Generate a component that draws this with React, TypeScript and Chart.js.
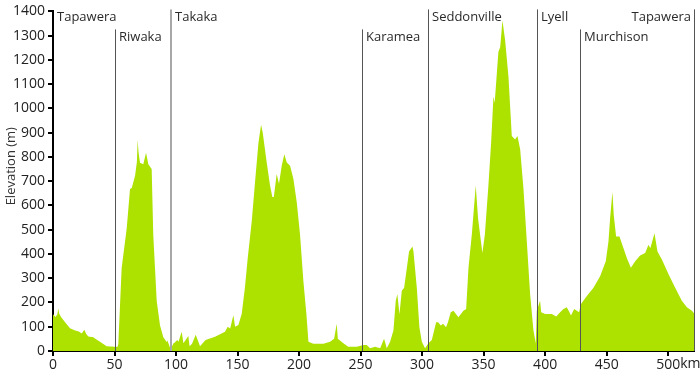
import React, { useEffect, useRef } from "react";
import { Chart, registerables } from "chart.js";

Chart.register(...registerables);

// Distance along route (km)
const distanceKm = [
  0, 2, 3.5, 4.3, 5, 6.5, 10, 13.8, 18, 21, 23.3, 25.5, 27, 28.7, 32.8, 35, 38.2, 43.6, 50, 52.5,
  53.1, 55.8, 59.9, 62.6, 64, 66.7, 68.2, 68.8, 69.5, 70.7, 73.4, 75.6, 77.5, 80.2, 81.5, 84.3, 87, 89.7, 92.4, 93,
  95.2, 96, 97.8, 99, 101, 102, 104.6, 106, 110, 111, 113, 116, 118, 119.5, 124, 131.7, 139.8, 142, 144, 146.6,
  148, 150.7, 153.4, 156, 158.3, 161.5, 164.2, 167, 169.1, 170.5, 173.7, 176.4, 178.3, 179.5, 181.8, 183.7, 185.9, 188, 190, 192.7,
  195.4, 198.1, 200.8, 203.5, 206, 207.6, 211.6, 219.8, 225.2, 228.5, 230.6, 231.5, 236, 240, 246.9, 252.3, 255, 257.7, 261.8, 265.9,
  269.1, 271.3, 274, 276.7, 278.6, 279.9, 281.6, 283.5, 285.4, 287.6, 289.4, 292.1, 293, 295.7, 297.8, 299.8, 302.4, 305.1, 307.9, 311.4,
  313, 315.2, 317, 319.5, 321, 323.3, 325.5, 329.5, 333.6, 335.8, 337.7, 340.4, 343.6, 345.5, 349, 351, 353.9, 356.1, 358, 359,
  362, 363.5, 365.3, 367.5, 370.2, 372.9, 375.6, 377.5, 379.7, 382.4, 385.1, 387.8, 390.5, 392.4, 393.2, 395.9, 396.8, 400, 405.4, 409,
  412.2, 414.9, 417.6, 419.8, 421, 423.6, 427.6, 429, 433.9, 439.3, 444.7, 449.3, 451.5, 452.8, 454.7, 455.8, 457.7, 460.4, 463.7, 466.4,
  469.7, 473.2, 477.2, 481.3, 484, 485.5, 488.9, 491.3, 494.9, 500.3, 505.7, 511.1, 515.2, 519.3, 521.4,
];

// Elevation (m)
const elevationM = [
  152, 140, 150, 175, 155, 140, 118, 94, 85, 80, 72, 88, 70, 60, 57, 48, 38, 20, 18, 18,
  30, 342, 505, 668, 672, 722, 780, 871, 820, 776, 770, 817, 770, 750, 478, 206, 105, 57, 37, 43,
  12, 10, 31, 35, 45, 38, 79, 32, 62, 20, 30, 67, 40, 20, 45, 59, 79, 100, 93, 147,
  100, 107, 154, 262, 384, 533, 696, 859, 933, 899, 777, 682, 635, 635, 730, 689, 764, 811, 777, 764,
  709, 614, 479, 289, 150, 38, 30, 30, 38, 51, 112, 51, 32, 18, 18, 25, 25, 11, 18, 11,
  51, 11, 38, 85, 207, 234, 152, 248, 261, 342, 410, 431, 410, 261, 98, 38, 11, 32, 45, 119,
  119, 105, 112, 98, 119, 160, 166, 139, 166, 173, 343, 479, 682, 546, 404, 479, 682, 859, 1049, 1022,
  1233, 1253, 1362, 1280, 1131, 886, 872, 886, 832, 669, 452, 234, 85, 31, 166, 207, 160, 153, 153, 142,
  160, 173, 180, 160, 146, 173, 160, 193, 227, 261, 308, 370, 452, 546, 655, 560, 472, 472, 424, 383,
  343, 370, 394, 404, 438, 424, 485, 410, 377, 316, 261, 207, 180, 166, 153,
];

// Towns along the route
const townNames = ["Tapawera", "Riwaka", "Takaka", "Karamea", "Seddonville", "Lyell", "Murchison", "Tapawera"];
const townKm = [0, 50.4, 96, 251, 305, 393, 428, 521];

const xTickStep = 50;
const yTickStep = 100;
const xMax = 521;
const yMax = 1400;
const yTitle = "Elevation (m)";

// Styling (not data)
const townLowRow = [false, true, false, true, false, false, true, false];
const FONT = "'Open Sans', 'Noto Sans', sans-serif";

const townPlugin = {
  id: "towns",
  afterDatasetsDraw(chart: any) {
    const { ctx, chartArea, scales } = chart;
    const xs = scales.x;
    ctx.save();
    ctx.font = `13px ${FONT}`;
    ctx.textBaseline = "middle";
    ctx.fillStyle = "#2a2a2a";
    townNames.forEach((name: string, i: number) => {
      const x = Math.round(xs.getPixelForValue(townKm[i]));
      const low = townLowRow[i];
      const labelY = chartArea.top + (low ? 26 : 6);
      if (i > 0) {
        const top = chartArea.top + (low ? 18 : -2);
        ctx.beginPath();
        if (name === "Takaka") {
          ctx.strokeStyle = "#a8a8a8";
          ctx.lineWidth = 2;
        } else {
          ctx.strokeStyle = "#555555";
          ctx.lineWidth = 1;
        }
        const px = ctx.lineWidth === 1 ? x + 0.5 : x;
        ctx.moveTo(px, top);
        ctx.lineTo(px, chartArea.bottom);
        ctx.stroke();
      }
      if (i === townNames.length - 1) {
        ctx.textAlign = "right";
        ctx.fillText(name, x - 3, labelY);
      } else {
        ctx.textAlign = "left";
        ctx.fillText(name, (i === 0 ? chartArea.left : x) + 4, labelY);
      }
    });
    // "km" unit after the last x tick label
    const lastTick = Math.floor(xMax / xTickStep) * xTickStep;
    const tx = xs.getPixelForValue(lastTick);
    ctx.font = `14px ${FONT}`;
    ctx.textAlign = "left";
    const w = ctx.measureText(String(lastTick)).width;
    ctx.fillStyle = "#222";
    ctx.textBaseline = "top";
    ctx.fillText("km", tx + w / 2, chartArea.bottom + 6);

    // y-axis title, slightly above the centre as in the original
    ctx.save();
    ctx.translate(11, (chartArea.top + chartArea.bottom) / 2 - 15);
    ctx.rotate(-Math.PI / 2);
    ctx.font = `13px ${FONT}`;
    ctx.fillStyle = "#333";
    ctx.textAlign = "center";
    ctx.textBaseline = "middle";
    ctx.fillText(yTitle, 0, 0);
    ctx.restore();
    ctx.restore();
  },
};

export default function App() {
  const canvasRef = useRef<HTMLCanvasElement | null>(null);

  useEffect(() => {
    if (!canvasRef.current) return;
    const points = distanceKm.map((d, i) => ({ x: d, y: elevationM[i] }));
    const chart = new Chart(canvasRef.current, {
      type: "line",
      data: {
        datasets: [
          {
            data: points,
            fill: "origin",
            backgroundColor: "#ade100",
            borderWidth: 0,
            borderColor: "#ade100",
            pointRadius: 0,
            tension: 0,
          },
        ],
      },
      options: {
        animation: false,
        responsive: false,
        devicePixelRatio: 1,
        layout: { padding: { top: 7, right: 6, bottom: 0, left: 0 } },
        plugins: { legend: { display: false }, tooltip: { enabled: false } },
        scales: {
          x: {
            type: "linear",
            min: 0,
            max: xMax,
            border: { color: "#000", width: 2 },
            grid: { drawOnChartArea: false, color: "#000", lineWidth: 2, tickLength: 5 },
            ticks: {
              stepSize: xTickStep,
              includeBounds: false,
              maxRotation: 0,
              padding: 1,
              color: "#222",
              font: { family: FONT, size: 14 },
              callback: (v: any) => String(v),
            },
            afterFit(scale: any) {
              scale.height = 26;
            },
          },
          y: {
            type: "linear",
            min: 0,
            max: yMax,
            border: { color: "#000", width: 2 },
            grid: { drawOnChartArea: false, color: "#000", lineWidth: 2, tickLength: 5 },
            ticks: {
              stepSize: yTickStep,
              padding: 3,
              color: "#222",
              font: { family: FONT, size: 14 },
              callback: (v: any) => String(v),
            },
            title: { display: false },
            afterFit(scale: any) {
              scale.width = 53;
            },
          },
        },
      },
      plugins: [townPlugin],
    });
    return () => chart.destroy();
  }, []);

  return (
    <div style={{ position: "absolute", left: 0, top: 0, width: 700, height: 377, background: "#fff" }}>
      <canvas ref={canvasRef} width={700} height={377} style={{ display: "block" }} />
    </div>
  );
}
